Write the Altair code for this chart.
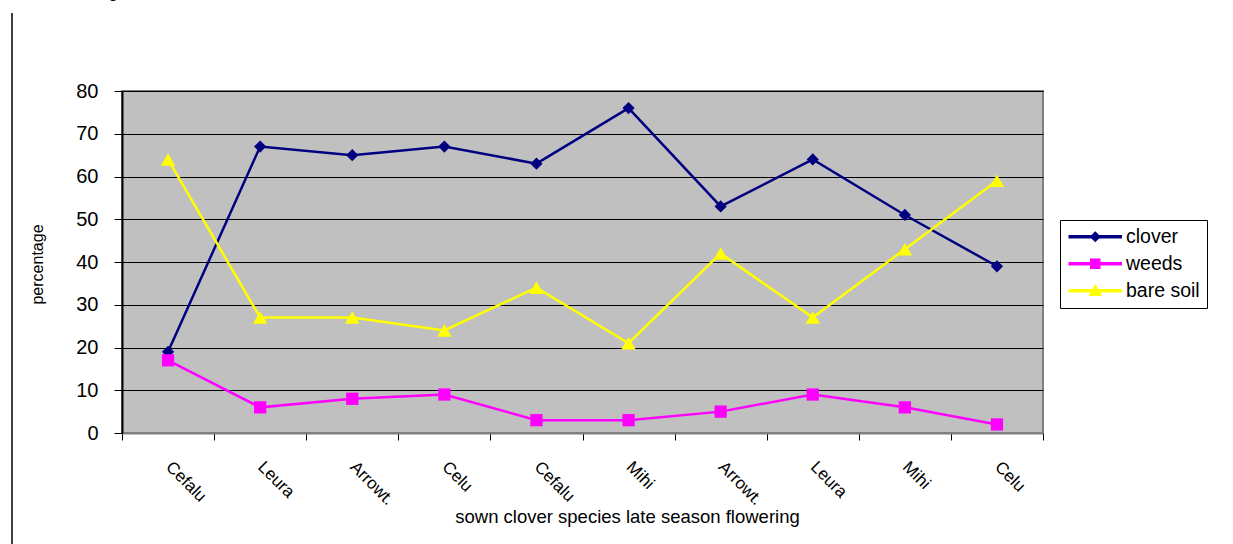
import altair as alt
import pandas as pd

# Sown clover cultivars (late season flowering), in plotting order
cultivars = ["Cefalu", "Leura", "Arrowt.", "Celu", "Cefalu",
             "Mihi", "Arrowt.", "Leura", "Mihi", "Celu"]

# Ground cover (%) per plot
clover = [19, 67, 65, 67, 63, 76, 53, 64, 51, 39]
weeds = [17, 6, 8, 9, 3, 3, 5, 9, 6, 2]
bare_soil = [64, 27, 27, 24, 34, 21, 42, 27, 43, 59]

series_names = ["clover", "weeds", "bare soil"]
series_colors = ["#000080", "#FF00FF", "#FFFF00"]
series_shapes = ["diamond", "square", "triangle-up"]
marker_sizes = [150, 150, 210]

# Legend keys: a short line with the marker drawn over it (pixel units)
line_seg = "M-26,-1 L26,-1 L26,1 L-26,1 Z"
legend_paths = [
    line_seg + " M0,-4.5 L4.5,0 L0,4.5 L-4.5,0 Z",
    line_seg + " M-4.5,-4.5 L4.5,-4.5 L4.5,4.5 L-4.5,4.5 Z",
    line_seg + " M0,-5.5 L5.5,4.5 L-5.5,4.5 Z",
]

rows = []
for name, vals in zip(series_names, [clover, weeds, bare_soil]):
    for i, v in enumerate(vals):
        rows.append({"idx": i, "cultivar": cultivars[i], "series": name, "value": v})
df = pd.DataFrame(rows)

label_expr = "[" + ",".join("'" + c + "'" for c in cultivars) + "][datum.value]"

color_scale = alt.Scale(domain=series_names, range=series_colors)

x_enc = alt.X(
    "idx:O",
    scale=alt.Scale(paddingInner=0, paddingOuter=0),
    axis=alt.Axis(
        labelExpr=label_expr,
        labelAngle=45,
        labelAlign="left",
        labelBaseline="middle",
        labelFontSize=17,
        labelPadding=24,
        labelOverlap=False,
        tickBand="extent",
        tickSize=7,
        tickColor="black",
        domainColor="#808080",
        domainWidth=2,
        grid=False,
        title="sown clover species late season flowering",
        titleFontSize=18.5,
        titleFontWeight="normal",
        titleX=505,
        titleY=89,
        titleAlign="center",
        titleBaseline="alphabetic",
    ),
)

y_enc = alt.Y(
    "value:Q",
    scale=alt.Scale(domain=[0, 80], nice=False),
    axis=alt.Axis(
        values=list(range(0, 81, 10)),
        labelFontSize=20,
        labelPadding=16,
        tickSize=8,
        tickColor="black",
        domainColor="black",
        domainWidth=2,
        grid=True,
        gridColor="black",
        gridWidth=1,
        gridOpacity=1,
        title="percentage",
        titleFontSize=16,
        titleFontWeight="normal",
        titleX=-85,
        titleY=173,
        titleAlign="center",
        titleBaseline="middle",
    ),
)

base = alt.Chart(df)

lines = base.mark_line(strokeWidth=2.5).encode(
    x=x_enc,
    y=y_enc,
    color=alt.Color("series:N", scale=color_scale),
    detail="series:N",
)

points = [
    base.transform_filter(alt.datum.series == name)
    .mark_point(shape=shp, filled=True, opacity=1, size=sz)
    .encode(
        x=alt.X("idx:O"),
        y=alt.Y("value:Q"),
        color=alt.Color("series:N", scale=color_scale),
    )
    for name, shp, sz in zip(series_names, series_shapes, marker_sizes)
]

# Legend-only layer: no rows, its entries come from the scale domains
legend_layer = (
    base.transform_filter("false")
    .mark_point(filled=True, opacity=1)
    .encode(
        x=alt.X("idx:O"),
        y=alt.Y("value:Q"),
        color=alt.Color("series:N", scale=color_scale, legend=alt.Legend(title=None)),
        shape=alt.Shape(
            "series:N",
            scale=alt.Scale(domain=series_names, range=legend_paths),
            legend=alt.Legend(title=None),
        ),
    )
)

# Page margin line and a clipped letter of the text above the chart
frame = pd.DataFrame({"k": [0]})
page_line = alt.Chart(frame).mark_rule(color="black", strokeWidth=1.5).encode(
    x=alt.value(-110), y=alt.value(-78), y2=alt.value(453)
)
page_text = alt.Chart(frame).mark_text(
    text="p", font="Liberation Serif", fontSize=24, baseline="alphabetic", color="black"
).encode(x=alt.value(-6), y=alt.value(-95))

chart = (
    alt.layer(lines, *points, legend_layer, page_line, page_text)
    .properties(
        width=921,
        height=342,
        autosize=alt.AutoSizeParams(type="none"),
        padding={"left": 122, "top": 91, "right": 190, "bottom": 111},
        background="white",
    )
    .configure_view(fill="#C0C0C0", stroke="#808080", strokeWidth=2)
    .configure_axis(
        labelFont="Liberation Sans",
        titleFont="Liberation Sans",
        labelColor="black",
        titleColor="black",
    )
    .configure_legend(
        orient="none",
        legendX=938,
        legendY=129,
        strokeColor="black",
        fillColor="white",
        padding=7,
        cornerRadius=0,
        symbolSize=4,
        symbolOffset=18.5,
        labelOffset=21,
        labelFont="Liberation Sans",
        labelFontSize=19.5,
        labelColor="black",
        rowPadding=6,
    )
)

chart.save("out.html", embed_options={"renderer": "svg", "actions": False})
